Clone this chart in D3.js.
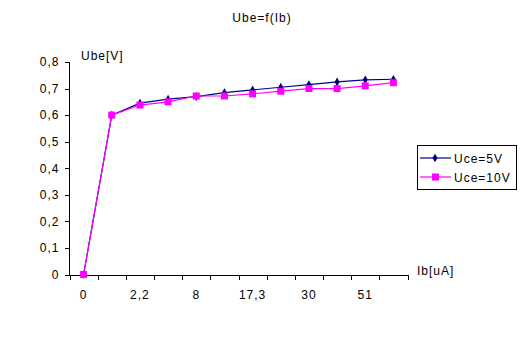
<!DOCTYPE html>
<html>
<head>
<meta charset="utf-8">
<script src="https://cdn.jsdelivr.net/npm/d3@7"></script>
<style>
  html, body { margin: 0; padding: 0; background: #fff; }
  svg { display: block; font-family: "Liberation Sans", Arial, sans-serif; }
  svg text { letter-spacing: 1px; }
</style>
</head>
<body>
<svg id="chart" width="523" height="347"></svg>
<script>
// Ib categories (only every second one is labelled on the axis)
const categories = ["0", "", "2,2", "", "8", "", "17,3", "", "30", "", "51", ""];
// Ube in volts for each series
const uce5V  = [0, 0.60, 0.645, 0.66, 0.67, 0.685, 0.695, 0.705, 0.715, 0.725, 0.733, 0.735];
const uce10V = [0, 0.60, 0.638, 0.65, 0.672, 0.672, 0.68, 0.69, 0.70, 0.70, 0.71, 0.722];
const yTicks = [0, 0.1, 0.2, 0.3, 0.4, 0.5, 0.6, 0.7, 0.8];

const series = [
  { name: "Uce=5V",  values: uce5V,  color: "#000080", marker: "diamond" },
  { name: "Uce=10V", values: uce10V, color: "#FF00FF", marker: "square" }
];

const svg = d3.select("#chart");
const plot = { left: 69.5, right: 407.5, top: 62, bottom: 274.5 };

const idx = categories.map((_, i) => i);
const x = d3.scaleBand().domain(idx).range([plot.left, plot.right]).padding(0);
const xEdges = d3.scaleLinear().domain([0, categories.length]).range([plot.left, plot.right]);
const y = d3.scaleLinear().domain([0, 0.8]).range([plot.bottom, plot.top]);
const cx = i => x(i) + x.bandwidth() / 2;
const fmt = v => d3.format(".1~f")(v).replace(".", ",");

// Title and axis titles
svg.append("text").attr("x", 262).attr("y", 22).attr("text-anchor", "middle")
  .attr("font-size", 12).text("Ube=f(Ib)");
svg.append("text").attr("x", 81).attr("y", 60)
  .attr("font-size", 12).text("Ube[V]");
svg.append("text").attr("x", 417).attr("y", 275)
  .attr("font-size", 12).text("Ib[uA]");

// Y axis
const yAxis = svg.append("g").attr("transform", `translate(${plot.left},0)`)
  .call(d3.axisLeft(y).tickValues(yTicks).tickFormat(fmt).tickSize(5).tickPadding(5));
yAxis.select(".domain").attr("d", `M-5,${y(0.8)}H0V${y(0)}`);

// X axis: tick marks at category boundaries, labels at category centres
svg.append("g").attr("transform", `translate(0,${plot.bottom})`)
  .call(d3.axisBottom(xEdges).tickValues(d3.range(categories.length + 1)).tickFormat("").tickSize(5).tickSizeOuter(0));
svg.append("g").attr("transform", `translate(0,${plot.bottom})`)
  .call(d3.axisBottom(x).tickFormat(i => categories[i]).tickSize(0).tickPadding(16))
  .call(g => g.select(".domain").remove());

svg.selectAll(".tick text").attr("font-size", 12).attr("fill", "#000")
  .attr("font-family", "Liberation Sans, Arial, sans-serif");
svg.selectAll(".domain, .tick line").attr("stroke", "#000").attr("shape-rendering", "crispEdges");

// Series lines and markers
const line = d3.line().x((d, i) => cx(i)).y(d => y(d));
const diamond = d3.symbol().type(d3.symbolDiamond).size(22);
series.forEach(s => {
  const g = svg.append("g");
  g.append("path").datum(s.values).attr("d", line)
    .attr("fill", "none").attr("stroke", s.color).attr("stroke-width", 1.2);
  if (s.marker === "square") {
    g.selectAll("rect").data(s.values).join("rect")
      .attr("x", (d, i) => cx(i) - 3.5).attr("y", d => y(d) - 3.5)
      .attr("width", 7).attr("height", 7).attr("fill", s.color);
  } else {
    g.selectAll("path.m").data(s.values).join("path").attr("class", "m")
      .attr("transform", (d, i) => `translate(${cx(i)},${y(d)})`)
      .attr("d", diamond).attr("fill", s.color);
  }
});

// Legend
const lg = svg.append("g");
lg.append("rect").attr("x", 417.5).attr("y", 145.5).attr("width", 99).attr("height", 44)
  .attr("fill", "#fff").attr("stroke", "#000");
series.forEach((s, k) => {
  const yy = 158 + k * 19;
  lg.append("line").attr("x1", 420).attr("x2", 451).attr("y1", yy).attr("y2", yy)
    .attr("stroke", s.color).attr("stroke-width", 1.2);
  if (s.marker === "square") {
    lg.append("rect").attr("x", 432).attr("y", yy - 3.5).attr("width", 7).attr("height", 7).attr("fill", s.color);
  } else {
    lg.append("path").attr("transform", `translate(435,${yy})`).attr("d", diamond).attr("fill", s.color);
  }
  lg.append("text").attr("x", 454).attr("y", yy + 4.5).attr("font-size", 12).text(s.name);
});
</script>
</body>
</html>
